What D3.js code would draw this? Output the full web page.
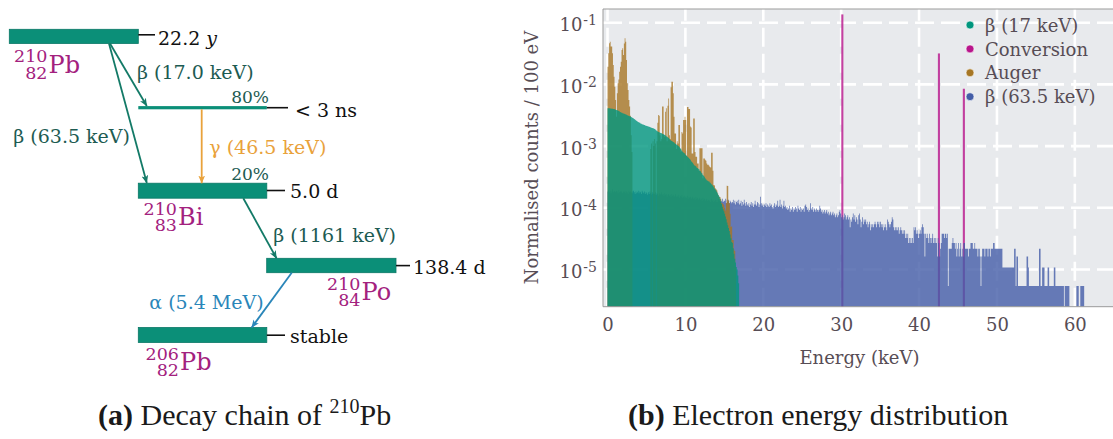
<!DOCTYPE html>
<html>
<head>
<meta charset="utf-8">
<script src="https://cdn.jsdelivr.net/npm/d3@7"></script>
<style>
  html, body { margin: 0; padding: 0; background: #ffffff; }
  svg { display: block; }
</style>
</head>
<body>
<svg id="fig" width="1113" height="439"></svg>
<script>
// ---------------------------------------------------------------
// Decay scheme content
// ---------------------------------------------------------------
const isotopes = [["210", "82", "Pb"], ["210", "83", "Bi"], ["210", "84", "Po"], ["206", "82", "Pb"]];
const halfLives = ["22.2", "5.0 d", "138.4 d", "stable"];
const excitedHalfLife = "< 3 ns";
const transitionLabels = ["β (17.0 keV)", "β (63.5 keV)", "γ (46.5 keV)", "β (1161 keV)", "α (5.4 MeV)"];
const branchingLabels = ["80%", "20%"];

// ---------------------------------------------------------------
// Electron energy spectrum, histogram bins of 0.1 keV starting at 0 keV
// ---------------------------------------------------------------
const binWidth = 0.1;            // keV
const ppm = 1e-6;                // unit of the beta17 and auger arrays

// β (17 keV) branch, normalised counts per bin (×1e-6)
const beta17 = [
  4120, 4090, 4100, 4060, 4070, 4020, 4040, 3990, 3980, 3940,
  3880, 3860, 3800, 3760, 3700, 3620, 3560, 3500, 3460, 3420,
  3380, 3330, 3300, 3250, 3220, 3160, 3130, 3080, 3040, 3010,
  2960, 2920, 2850, 2800, 2740, 2680, 2620, 2560, 2500, 2450,
  2420, 2380, 2330, 2300, 2270, 2240, 2210, 2190, 2160, 2140,
  2120, 2100, 2070, 2050, 2030, 2010, 1990, 1970, 1950, 1930,
  1900, 1860, 1800, 1750, 1720, 1700, 1680, 1650, 1630, 1610,
  1590, 1570, 1540, 1510, 1480, 1450, 1420, 1390, 1350, 1310,
  1260, 1230, 1210, 1190, 1160, 1140, 1110, 1080, 1060, 1040,
  1010, 990, 960, 920, 880, 840, 810, 790, 770, 750,
  720, 700, 680, 660, 640, 620, 600, 570, 550, 530,
  510, 490, 480, 470, 450, 440, 430, 420, 400, 390,
  370, 360, 340, 330, 320, 300, 290, 280, 275, 270,
  266, 258, 250, 240, 236, 226, 215, 205, 198, 190,
  180, 170, 160, 153, 140, 128, 115, 104, 95, 88,
  80, 72, 65, 58, 52, 47, 42, 37, 32, 28,
  27, 22, 18, 15, 13, 11, 10, 8, 6
];

// Auger electrons, normalised counts per bin (×1e-6)
const auger = [
  19400, 32000, 46300, 49200, 41000, 41000, 32000, 20600, 13300, 9200,
  5600, 3000, 7200, 10400, 12000, 16000, 19400, 23300, 36200, 38500,
  30000, 46000, 55800, 49000, 24800, 10400, 8100, 5600, 4400, 3100,
  1500, 800, 0, 0, 0, 0, 0, 0, 0, 0,
  0, 0, 0, 0, 0, 0, 0, 0, 0, 0,
  0, 0, 0, 0, 0, 900, 1100, 0, 1200, 1000,
  1300, 1100, 0, 1200, 2400, 3200, 3100, 1500, 1200, 1300,
  4400, 4400, 1500, 1400, 3600, 4100, 1200, 4500, 5900, 1500,
  1300, 9000, 11000, 11000, 7200, 3000, 1600, 1600, 900, 1200,
  1100, 2200, 2200, 900, 800, 1700, 1600, 2650, 2650, 3000,
  2650, 700, 4300, 4300, 4000, 4000, 2070, 2000, 760, 760,
  2800, 2800, 800, 670, 670, 520, 520, 400, 920, 920,
  920, 920, 300, 630, 630, 600, 580, 520, 500, 500,
  480, 460, 450, 780, 780, 400, 234, 230, 207, 200,
  190, 170, 160, 150, 150, 140, 120, 118, 115, 110,
  100, 90, 120, 227, 225, 130, 120, 80, 49, 50,
  30, 30, 21, 20, 11
];

// Conversion electron lines: bin start energy (keV) and normalised counts
const conversionEnergy = [30.1, 42.5, 45.7];
const conversionValue = [0.133, 0.031, 0.0083];

// β (63.5 keV) branch, raw counts per bin, and the normalisation of one count
const beta635PerCount = 5.4e-6;
const beta635Counts = [
  34, 36, 33, 35, 32, 34, 37, 33, 35, 34,
  33, 35, 34, 32, 36, 33, 34, 35, 33, 32,
  34, 33, 35, 32, 34, 33, 31, 35, 33, 34,
  33, 32, 34, 35, 33, 31, 34, 32, 33, 35,
  32, 34, 33, 31, 35, 33, 32, 34, 31, 33,
  32, 30, 33, 31, 34, 32, 30, 33, 31, 32,
  31, 33, 30, 32, 31, 29, 32, 30, 31, 33,
  30, 31, 29, 32, 30, 31, 28, 30, 31, 29,
  30, 28, 31, 29, 30, 28, 29, 31, 28, 29,
  28, 30, 27, 29, 28, 30, 27, 28, 29, 27,
  28, 27, 29, 26, 28, 27, 28, 26, 27, 28,
  26, 27, 25, 28, 26, 27, 25, 26, 27, 25,
  26, 24, 27, 25, 26, 24, 25, 26, 24, 25,
  24, 25, 23, 26, 24, 25, 23, 24, 25, 23,
  25, 23, 26, 24, 25, 23, 24, 26, 23, 24,
  24, 26, 22, 25, 23, 25, 22, 24, 23, 22,
  23, 25, 22, 24, 21, 23, 24, 22, 25, 21,
  22, 24, 20, 23, 21, 25, 22, 20, 23, 21,
  20, 22, 19, 21, 23, 20, 22, 19, 21, 24,
  21, 20, 23, 22, 19, 21, 28, 22, 20, 21,
  19, 21, 20, 22, 19, 21, 20, 19, 22, 20,
  21, 19, 18, 20, 22, 19, 21, 20, 24, 19,
  20, 25, 19, 21, 18, 20, 24, 19, 20, 18,
  19, 17, 18, 20, 16, 18, 17, 19, 16, 18,
  17, 19, 18, 16, 20, 18, 17, 19, 16, 18,
  17, 18, 16, 20, 21, 19, 17, 18, 16, 17,
  22, 18, 17, 19, 16, 18, 17, 16, 18, 17,
  16, 17, 20, 18, 16, 17, 15, 16, 17, 15,
  16, 17, 15, 16, 14, 15, 16, 14, 15, 16,
  14, 15, 13, 14, 15, 13, 14, 16, 17, 15,
  13, 14, 12, 13, 15, 14, 12, 13, 14, 12,
  13, 9, 12, 11, 13, 15, 12, 14, 11, 13,
  12, 10, 14, 15, 12, 9, 11, 13, 10, 12,
  11, 12, 10, 11, 9, 10, 11, 8, 10, 9,
  10, 9, 10, 11, 10, 9, 11, 10, 11, 9,
  11, 10, 9, 10, 8, 9, 10, 9, 8, 12,
  11, 10, 9, 10, 11, 13, 12, 9, 8, 9,
  8, 9, 8, 9, 7, 8, 9, 8, 7, 8,
  7, 8, 6, 7, 6, 7, 5, 6, 5, 6,
  5, 6, 5, 9, 8, 9, 7, 8, 7, 6,
  7, 8, 7, 9, 10, 9, 7, 3, 7, 6,
  7, 6, 5, 7, 6, 5, 6, 7, 5, 6,
  5, 6, 5, 3, 6, 5, 3, 4, 5, 7,
  7, 7, 6, 7, 7, 6, 7, 1, 4, 4,
  4, 4, 5, 6, 5, 5, 4, 5, 3, 4,
  5, 3, 4, 5, 3, 4, 3, 5, 5, 4,
  4, 4, 4, 3, 4, 4, 5, 5, 5, 4,
  4, 5, 4, 4, 4, 3, 4, 4, 3, 1,
  3, 4, 4, 4, 3, 4, 4, 4, 3, 4,
  4, 3, 4, 4, 4, 5, 5, 4, 4, 4,
  4, 4, 4, 4, 4, 4, 4, 2, 2, 2,
  2, 2, 2, 2, 2, 2, 2, 2, 2, 2,
  2, 2, 4, 4, 1, 3, 3, 1, 1, 1,
  1, 1, 1, 1, 1, 1, 1, 1, 3, 3,
  2, 1, 1, 1, 1, 1, 1, 1, 1, 1,
  1, 1, 1, 1, 4, 4, 1, 1, 2, 2,
  2, 1, 1, 1, 1, 2, 2, 1, 1, 1,
  1, 1, 1, 2, 2, 1, 1, 1, 1, 1,
  1, 1, 1, 1, 1, 1, 0, 1, 1, 1,
  1, 1, 1, 0, 0, 0, 0, 0, 0, 0,
  0, 0, 1, 1, 1, 0, 0, 1, 1, 1,
  1, 1
];

const seriesNames = ["β (17 keV)", "Conversion", "Auger", "β (63.5 keV)"];
const xTicks = [0, 10, 20, 30, 40, 50, 60];
const yTickExponents = [-1, -2, -3, -4, -5];

// ---------------------------------------------------------------
const svg = d3.select("#fig");
const serif = "'DejaVu Serif', serif";

const colors = {
  teal: "#00967e",
  magenta: "#b8158b",
  brown: "#a67624",
  blue: "#435da7",
  barFill: "#0b8f78",
  barEdge: "#0a7866",
  arrowGreen: "#137a67",
  labelGreen: "#1d5b52",
  gamma: "#e9a23b",
  alpha: "#2a86b9",
  nuclide: "#a3217e",
  axisText: "#574d55",
  plotBg: "#e8eaed"
};

// ================================================================
// (a) Decay chain diagram
// ================================================================
const diag = svg.append("g").attr("font-family", serif);

// arrow head marker per colour
const defs = svg.append("defs");
function marker(id, color) {
  defs.append("marker")
    .attr("id", id).attr("viewBox", "0 0 10 10")
    .attr("refX", 9.5).attr("refY", 5)
    .attr("markerWidth", 8).attr("markerHeight", 8)
    .attr("markerUnits", "userSpaceOnUse")
    .attr("orient", "auto")
    .append("path").attr("d", "M0,0.8 L10,5 L0,9.2 L2.5,5 Z").attr("fill", color);
}
marker("ah-green", colors.arrowGreen);
marker("ah-gamma", colors.gamma);
marker("ah-alpha", colors.alpha);

// level bars: [x, y, width, height]
const levelBoxes = [
  [9.3, 29.3, 129, 14.2],    // 210Pb
  [138.3, 183.2, 128.5, 15], // 210Bi
  [266.7, 258.3, 129.3, 14.4], // 210Po
  [138.3, 327.5, 128.5, 15]  // 206Pb
];
diag.selectAll("rect.level").data(levelBoxes).enter().append("rect")
  .attr("class", "level")
  .attr("x", d => d[0]).attr("y", d => d[1])
  .attr("width", d => d[2]).attr("height", d => d[3])
  .attr("fill", colors.barFill).attr("stroke", colors.barEdge).attr("stroke-width", 0.8);

// excited 210Bi level reached by the 17 keV branch
diag.append("rect").attr("x", 138.3).attr("y", 106.1).attr("width", 128.5).attr("height", 3.2)
  .attr("fill", colors.barFill);

// half-life leader lines and labels
const leaders = [
  [138.3, 155, 34.8, 158, 45],
  [266.8, 285, 190.5, 290, 198.3],
  [396, 410, 265.6, 413, 273.5],
  [266.8, 285, 335.2, 290, 342.5]
];
leaders.forEach((l, i) => {
  diag.append("line").attr("x1", l[0]).attr("x2", l[1]).attr("y1", l[2]).attr("y2", l[2])
    .attr("stroke", "#111").attr("stroke-width", 1.6);
  const t = diag.append("text").attr("x", l[3]).attr("y", l[4])
    .attr("font-size", "19px").attr("fill", "#111");
  if (i === 0) {
    t.append("tspan").text(halfLives[0] + " ");
    t.append("tspan").attr("font-style", "italic").text("y");
  } else {
    t.text(halfLives[i]);
  }
});
diag.append("line").attr("x1", 266.8).attr("x2", 288).attr("y1", 107.7).attr("y2", 107.7)
  .attr("stroke", "#111").attr("stroke-width", 1.6);
diag.append("text").attr("x", 295).attr("y", 116.8).attr("font-size", "19px").attr("fill", "#111")
  .text(excitedHalfLife);

// nuclide labels (mass number over atomic number, then symbol): symbol start x, baseline
const nuclidePos = [[48.5, 72.7], [178, 225], [361.5, 300], [180, 370]];
isotopes.forEach((iso, i) => {
  const [sx, sy] = nuclidePos[i];
  const t = diag.append("text").attr("fill", colors.nuclide);
  t.append("tspan").attr("x", sx - 1).attr("y", sy - 10.3).attr("text-anchor", "end")
    .attr("font-size", "17.5px").text(iso[0]);
  t.append("tspan").attr("x", sx - 1).attr("y", sy + 6.3).attr("text-anchor", "end")
    .attr("font-size", "17.5px").text(iso[1]);
  t.append("tspan").attr("x", sx).attr("y", sy).attr("text-anchor", "start")
    .attr("font-size", "24px").text(iso[2]);
});

// transitions: [x1, y1, x2, y2, colour, marker]
const arrows = [
  [110, 43.5, 146.8, 106, colors.arrowGreen, "ah-green"],
  [109, 43.5, 146.8, 183, colors.arrowGreen, "ah-green"],
  [201.7, 109.3, 201.7, 183.2, colors.gamma, "ah-gamma"],
  [243.3, 198.2, 276.5, 258.3, colors.arrowGreen, "ah-green"],
  [291.7, 272.7, 251.7, 327.5, colors.alpha, "ah-alpha"]
];
arrows.forEach(a => {
  diag.append("line").attr("x1", a[0]).attr("y1", a[1]).attr("x2", a[2]).attr("y2", a[3])
    .attr("stroke", a[4]).attr("stroke-width", 1.8).attr("marker-end", `url(#${a[5]})`);
});

// transition labels: [x, baseline, colour]
const transitionPos = [
  [137, 78.5, colors.labelGreen],
  [13.3, 143, colors.labelGreen],
  [209.3, 154, colors.gamma],
  [273.3, 241.7, colors.labelGreen],
  [149.3, 309.3, colors.alpha]
];
transitionLabels.forEach((lab, i) => {
  const p = transitionPos[i];
  diag.append("text").attr("x", p[0]).attr("y", p[1]).attr("font-size", "19px")
    .attr("fill", p[2]).text(lab);
});
diag.append("text").attr("x", 269).attr("y", 103.3).attr("text-anchor", "end")
  .attr("font-size", "17px").attr("fill", colors.labelGreen).text(branchingLabels[0]);
diag.append("text").attr("x", 269).attr("y", 180).attr("text-anchor", "end")
  .attr("font-size", "17px").attr("fill", colors.labelGreen).text(branchingLabels[1]);

// ================================================================
// (b) Electron energy distribution
// ================================================================
const plot = { left: 603, right: 1113, top: 9, bottom: 306.7 };
const x = d3.scaleLinear().domain([-0.58, 64.9]).range([plot.left, plot.right]);
const y = d3.scaleLog().domain([Math.pow(10, -5.603), Math.pow(10, -0.778)]).range([plot.bottom, plot.top]);

const chart = svg.append("g").attr("font-family", serif);

defs.append("clipPath").attr("id", "plot-clip").append("rect")
  .attr("x", plot.left).attr("y", plot.top)
  .attr("width", plot.right - plot.left).attr("height", plot.bottom - plot.top);

chart.append("rect").attr("x", plot.left).attr("y", plot.top)
  .attr("width", plot.right - plot.left).attr("height", plot.bottom - plot.top)
  .attr("fill", colors.plotBg);

// dashed white grid
const grid = chart.append("g").attr("stroke", "#ffffff").attr("stroke-width", 2.6)
  .attr("stroke-dasharray", "19,7");
grid.selectAll("line.v").data(xTicks).enter().append("line")
  .attr("x1", d => x(d)).attr("x2", d => x(d)).attr("y1", plot.bottom).attr("y2", plot.top);
grid.selectAll("line.h").data(yTickExponents).enter().append("line")
  .attr("y1", d => y(Math.pow(10, d))).attr("y2", d => y(Math.pow(10, d)))
  .attr("x1", plot.left).attr("x2", plot.right);

// histogram outlines as step areas
function stepPoints(values, factor) {
  const pts = values.map((v, i) => ({ e: i * binWidth, v: v * factor }));
  pts.push({ e: values.length * binWidth, v: values[values.length - 1] * factor });
  return pts;
}
const stepArea = d3.area().curve(d3.curveStepAfter)
  .x(d => x(d.e))
  .y0(plot.bottom)
  .y1(d => d.v > 0 ? Math.max(plot.top, y(d.v)) : plot.bottom);

const bars = chart.append("g").attr("clip-path", "url(#plot-clip)");

// conversion lines (drawn first, under the continuum)
const conv = bars.append("g").attr("opacity", 0.8);
conv.selectAll("rect").data(conversionEnergy.map((e, i) => ({ e, v: conversionValue[i] })))
  .enter().append("rect")
  .attr("x", d => x(d.e)).attr("width", d => x(d.e + binWidth) - x(d.e))
  .attr("y", d => y(d.v)).attr("height", d => plot.bottom - y(d.v))
  .attr("fill", colors.magenta).attr("stroke", colors.magenta).attr("stroke-width", 1.3);

bars.append("path").datum(stepPoints(beta635Counts, beta635PerCount))
  .attr("d", stepArea).attr("fill", colors.blue).attr("fill-opacity", 0.8);
bars.append("path").datum(stepPoints(auger, ppm))
  .attr("d", stepArea).attr("fill", colors.brown).attr("fill-opacity", 0.8);
bars.append("path").datum(stepPoints(beta17, ppm))
  .attr("d", stepArea).attr("fill", colors.teal).attr("fill-opacity", 0.8);

// frame
chart.append("g").attr("stroke", "#9b9b9b").attr("stroke-width", 1).call(g => {
  g.append("line").attr("x1", plot.left).attr("x2", plot.right).attr("y1", plot.top).attr("y2", plot.top);
  g.append("line").attr("x1", plot.left).attr("x2", plot.right).attr("y1", plot.bottom).attr("y2", plot.bottom);
  g.append("line").attr("x1", plot.left).attr("x2", plot.left).attr("y1", plot.top).attr("y2", plot.bottom);
});

// axes
const xAxis = chart.append("g").attr("transform", `translate(0,${plot.bottom})`)
  .call(d3.axisBottom(x).tickValues(xTicks).tickSize(0).tickPadding(11.5).tickFormat(d3.format("d")));
xAxis.select(".domain").remove();
xAxis.selectAll("text").attr("font-family", serif).attr("font-size", "18px").attr("fill", colors.axisText);

const yAxis = chart.append("g").attr("transform", `translate(${plot.left},0)`)
  .call(d3.axisLeft(y).tickValues(yTickExponents.map(e => Math.pow(10, e))).tickSize(0).tickPadding(6));
yAxis.select(".domain").remove();
yAxis.selectAll("text").each(function (d) {
  const t = d3.select(this);
  const ex = Math.round(Math.log10(d));
  t.text(null).attr("dy", "0.44em").attr("font-family", serif).attr("font-size", "18px")
    .attr("fill", colors.axisText);
  t.append("tspan").text("10");
  t.append("tspan").attr("dy", "-0.42em").attr("dx", "1").attr("font-size", "14px").text("-" + Math.abs(ex));
});

chart.append("text").attr("x", 859.5).attr("y", 364).attr("text-anchor", "middle")
  .attr("font-size", "18px").attr("fill", colors.axisText).text("Energy (keV)");
chart.append("text").attr("transform", "translate(538,157.5) rotate(-90)").attr("text-anchor", "middle")
  .attr("font-size", "18px").attr("fill", colors.axisText).text("Normalised counts / 100 eV");

// legend
const legendColors = [colors.teal, colors.magenta, colors.brown, colors.blue];
const legend = chart.append("g");
seriesNames.forEach((name, i) => {
  const cy = 25 + i * 23.9;
  legend.append("circle").attr("cx", 970).attr("cy", cy).attr("r", 4)
    .attr("fill", legendColors[i]).attr("stroke", "#ffffff").attr("stroke-width", 0.6);
  legend.append("text").attr("x", 985).attr("y", cy + 6.6).attr("font-size", "18px")
    .attr("fill", colors.axisText).text(name);
});

// ================================================================
// sub-figure captions
// ================================================================
const capFont = "'Liberation Serif', serif";
function caption(xPos, letter, parts) {
  const t = svg.append("text").attr("x", xPos).attr("y", 425)
    .attr("font-family", capFont).attr("font-size", "30px").attr("fill", "#1a1a1a");
  t.append("tspan").attr("font-weight", "bold").text("(" + letter + ")");
  parts.forEach(p => {
    const s = t.append("tspan").text(p.text);
    if (p.sup) s.attr("font-size", "20px").attr("dy", "-12");
    if (p.down) s.attr("dy", "12");
  });
}
caption(98, "a", [{ text: " Decay chain of " }, { text: "210", sup: true }, { text: "Pb", down: true }]);
caption(628, "b", [{ text: " Electron energy distribution" }]);
</script>
</body>
</html>
